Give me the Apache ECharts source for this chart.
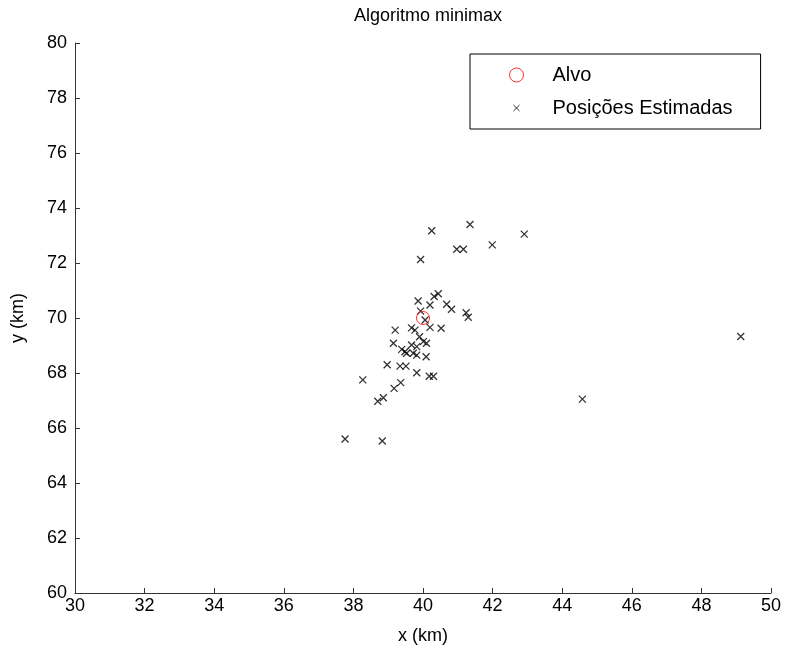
<!DOCTYPE html>
<html>
<head>
<meta charset="utf-8">
<script src="https://cdn.jsdelivr.net/npm/echarts@6/dist/echarts.min.js"></script>
<style>
  html, body { margin: 0; padding: 0; background: #fff; }
  #chart { width: 790px; height: 657px; }
</style>
</head>
<body>
<div id="chart"></div>
<script>
// Target position (km)
const target = [[40, 70]];

// Estimated positions from the minimax algorithm (x km, y km)
const estimated = [
  [40.25, 73.17], [41.35, 73.40], [42.91, 73.05], [41.99, 72.66], [40.97, 72.50],
  [41.16, 72.50], [39.93, 72.13], [39.86, 70.62], [40.44, 70.88], [40.32, 70.78],
  [40.20, 70.47], [40.68, 70.50], [40.82, 70.32], [41.24, 70.19], [41.30, 70.03],
  [39.93, 70.25], [40.06, 69.93], [40.20, 69.66], [40.52, 69.63], [39.20, 69.56],
  [39.67, 69.64], [39.77, 69.56], [39.90, 69.32], [40.01, 69.14], [40.10, 69.08],
  [39.15, 69.08], [39.67, 69.02], [39.82, 68.96], [39.39, 68.86], [39.48, 68.77],
  [39.53, 68.72], [39.72, 68.72], [39.82, 68.65], [40.09, 68.59], [38.97, 68.30],
  [39.34, 68.25], [39.51, 68.25], [39.82, 68.01], [40.18, 67.88], [40.30, 67.88],
  [38.27, 67.75], [39.36, 67.65], [39.17, 67.44], [38.86, 67.10], [38.70, 66.97],
  [37.76, 65.60], [38.83, 65.53], [49.13, 69.33], [44.58, 67.05]
];

const xRange = [30, 50];
const yRange = [60, 80];
const tickStep = 2;

const font = 'Liberation Sans, Arial, Helvetica, sans-serif';
const crossPath = 'path://M0,0L10,10M10,0L0,10';
// smaller cross inside a 14x14 legend cell (corner stubs fix the bounding box)
const legendCross = 'path://M0,0L0.01,0M14,14L14.01,14M4,4L10,10M10,4L4,10';

const chart = echarts.init(document.getElementById('chart'), null, { renderer: 'canvas' });

chart.setOption({
  animation: false,
  backgroundColor: '#fff',
  title: {
    text: 'Algoritmo minimax',
    left: 423, top: 2, textAlign: 'center',
    textStyle: { fontFamily: font, fontSize: 18, fontWeight: 'normal', color: '#000' }
  },
  grid: { left: 75, right: 19, top: 43, bottom: 64 },
  legend: {
    orient: 'vertical',
    left: 470, top: 54,
    padding: [11, 28, 11, 37],
    itemGap: 13,
    itemWidth: 14, itemHeight: 14,
    borderColor: '#000', borderWidth: 1,
    backgroundColor: '#fff',
    textStyle: { fontFamily: font, fontSize: 20, color: '#000', padding: [0, 0, 0, 24] },
    data: [
      { name: 'Alvo', icon: 'circle', itemStyle: { color: 'none', borderColor: '#ff0000', borderWidth: 1 } },
      { name: 'Posições Estimadas', icon: legendCross, itemStyle: { color: 'none', borderColor: '#000', borderWidth: 1 } }
    ]
  },
  xAxis: {
    type: 'value', min: xRange[0], max: xRange[1], interval: tickStep,
    name: 'x (km)', nameLocation: 'middle', nameGap: 34,
    nameTextStyle: { fontFamily: font, fontSize: 18, color: '#000' },
    axisLine: { lineStyle: { color: '#333', width: 1 } },
    axisTick: { inside: true, length: 5, lineStyle: { color: '#333' } },
    axisLabel: { fontFamily: font, fontSize: 18, color: '#000', margin: 4 },
    splitLine: { show: false }
  },
  yAxis: {
    type: 'value', min: yRange[0], max: yRange[1], interval: tickStep,
    name: 'y (km)', nameLocation: 'middle', nameGap: 48,
    nameTextStyle: { fontFamily: font, fontSize: 18, color: '#000' },
    axisLine: { show: true, lineStyle: { color: '#333', width: 1 } },
    axisTick: { show: true, inside: true, length: 5, lineStyle: { color: '#333' } },
    axisLabel: { fontFamily: font, fontSize: 18, color: '#000', margin: 8 },
    splitLine: { show: false }
  },
  series: [
    {
      name: 'Alvo', type: 'scatter', data: target,
      symbol: 'circle', symbolSize: 13, z: 3,
      itemStyle: { color: 'none', borderColor: '#ff0000', borderWidth: 1 }
    },
    {
      name: 'Posições Estimadas', type: 'scatter', data: estimated,
      symbol: crossPath, symbolSize: 7, z: 2,
      itemStyle: { color: 'none', borderColor: '#000', borderWidth: 1.3 }
    }
  ]
});
</script>
</body>
</html>
